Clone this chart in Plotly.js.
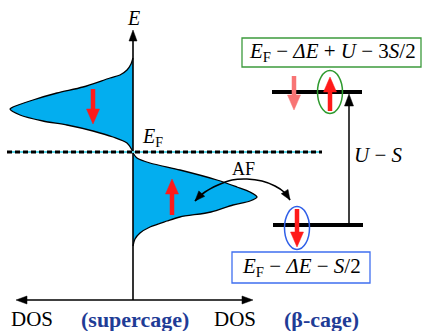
<!DOCTYPE html>
<html><head><meta charset="utf-8">
<script src="https://cdn.plot.ly/plotly-3.0.1.min.js"></script>
<style>html,body{margin:0;padding:0;background:#fff}#chart{width:422px;height:331px}</style>
</head><body><div id="chart"></div>
<script>
// Spin-down DOS lobe (supercage): DOS coordinate vs energy coordinate
const dosDownX = [133,131,127,120,110,83,57,33,13,10,20,43,67,93,113,127,132,133];
const dosDownY = [58,64,70,75,78,87,93,100,107,109,115,121,125,131,137,143,150,153];
// Spin-up DOS lobe (supercage)
const dosUpX = [133,137,150,180,217,237,250,257,250,233,211,180,167,150,140,135,133];
const dosUpY = [153,158,163,170,180,187,192,197,201,205,212,217,221,227,233,239,246];

// Energy levels (beta-cage)
const levelY = [92, 225];
const levelX0 = [272, 273];
const levelX1 = [362, 363];
const fermiY = 152;

// Spin arrows: x, tail y, tip y, colour
const spinX = [93, 172, 294, 330, 297];
const spinTail = [89, 215, 76, 111, 209];
const spinTip = [124, 179, 110, 77, 247];
const spinColor = ['#ff1a1a','#ff1a1a','#f87474','#ff1a1a','#ff1a1a'];

// Ellipses around spins: cx, cy, rx, ry, colour
const ellX = [330, 297];
const ellY = [92, 228];
const ellRx = [12.5, 12.5];
const ellRy = [21.5, 21.5];
const ellColor = ['#2e9a2e', '#2f5fe8'];

// AF curved arrow path points
const afX = [195, 205, 218, 232, 247, 262, 275, 284, 290];
const afY = [201, 192, 185, 180, 179, 181, 186, 192, 200];

// Labels
const labelText = ['<i>E</i>', '<i>E</i><sub>F</sub>', 'AF', '<i>U</i> − <i>S</i>',
  'DOS', '<b>(supercage)</b>', 'DOS', '<b>(β-cage)</b>',
  '<i>E</i><sub>F</sub> − <i>ΔE</i> + <i>U</i> − 3<i>S</i>/2',
  '<i>E</i><sub>F</sub> − <i>ΔE</i> − <i>S</i>/2'];
const labelX = [133, 152, 243, 378, 32, 135, 235, 321, 332, 301];
const labelY = [18, 137, 169, 155, 319, 319, 319, 319, 52, 267];
const labelSize = [20, 20, 18, 21, 21, 22, 21, 22, 21, 21];
const labelColor = ['#000','#000','#000','#000','#000','#1f3c96','#000','#1f3c96','#000','#000'];

// Boxes: x0, y0, x1, y1, colour
const boxX0 = [242, 232], boxY0 = [38, 252], boxX1 = [421, 370], boxY1 = [67, 283];
const boxColor = ['#3c9a3c', '#3f6ff0'];

const traces = [];
function arrow(x0,y0,x1,y1,color,width,headLen,headW){
  const dx=x1-x0, dy=y1-y0, L=Math.hypot(dx,dy), ux=dx/L, uy=dy/L;
  const bx=x1-ux*headLen, by=y1-uy*headLen, px=-uy, py=ux;
  if (width>0) traces.push({x:[x0,bx+ux*2],y:[y0,by+uy*2],mode:'lines',line:{color:color,width:width},hoverinfo:'skip'});
  traces.push({x:[x1,bx+px*headW/2,bx-px*headW/2,x1],y:[y1,by+py*headW/2,by-py*headW/2,y1],mode:'lines',fill:'toself',fillcolor:color,line:{color:color,width:0.5},hoverinfo:'skip'});
}

// DOS lobes
traces.push({x:dosDownX,y:dosDownY,mode:'lines',fill:'toself',fillcolor:'#03aeef',line:{color:'#000',width:1.3,shape:'spline',smoothing:0.8},hoverinfo:'skip'});
traces.push({x:dosUpX,y:dosUpY,mode:'lines',fill:'toself',fillcolor:'#03aeef',line:{color:'#000',width:1.3,shape:'spline',smoothing:0.8},hoverinfo:'skip'});

// axes
traces.push({x:[133,133],y:[300,36],mode:'lines',line:{color:'#000',width:1.6},hoverinfo:'skip'});
arrow(133,50,133,30,'#000',0,11,8);
traces.push({x:[22,248],y:[300,300],mode:'lines',line:{color:'#000',width:1.6},hoverinfo:'skip'});
arrow(40,300,16,300,'#000',0,11,8);
arrow(230,300,253,300,'#000',0,11,8);

// Fermi level dashed line
traces.push({x:[7,322],y:[fermiY,fermiY],mode:'lines',line:{color:'#5ad4e6',width:2},hoverinfo:'skip'});
traces.push({x:[7,322],y:[fermiY,fermiY],mode:'lines',line:{color:'#000',width:3,dash:'5px,3px'},hoverinfo:'skip'});

// levels
for (let i=0;i<levelY.length;i++){
  traces.push({x:[levelX0[i],levelX1[i]],y:[levelY[i],levelY[i]],mode:'lines',line:{color:'#000',width:4},hoverinfo:'skip'});
}
// U-S arrow
arrow(349, levelY[1], 349, levelY[0]+2, '#000', 1.5, 12, 9);

// AF curve
traces.push({x:afX,y:afY,mode:'lines',line:{color:'#000',width:1.6,shape:'spline'},hoverinfo:'skip'});
arrow(afX[1]+1,afY[1]-3,afX[0],afY[0],'#000',0,10,8);
const n=afX.length;
arrow(afX[n-2]-1,afY[n-2]-3,afX[n-1],afY[n-1],'#000',0,10,8);

// spin arrows
for (let i=0;i<spinX.length;i++){
  arrow(spinX[i],spinTail[i],spinX[i],spinTip[i],spinColor[i],4.5,15,13);
}

const shapes = [];
for (let i=0;i<ellX.length;i++){
  shapes.push({type:'circle',xref:'x',yref:'y',x0:ellX[i]-ellRx[i],x1:ellX[i]+ellRx[i],y0:ellY[i]-ellRy[i],y1:ellY[i]+ellRy[i],line:{color:ellColor[i],width:1.5}});
}
for (let i=0;i<boxX0.length;i++){
  shapes.push({type:'rect',xref:'x',yref:'y',x0:boxX0[i],x1:boxX1[i],y0:boxY0[i],y1:boxY1[i],line:{color:boxColor[i],width:1.3}});
}

const annotations = labelText.map((t,i)=>({x:labelX[i],y:labelY[i],xref:'x',yref:'y',text:t,showarrow:false,xanchor:'center',yanchor:'middle',
  font:{family:'Liberation Serif, Times New Roman, serif',size:labelSize[i],color:labelColor[i]}}));

const layout = {
  width:422,height:331,margin:{l:0,r:0,t:0,b:0},
  paper_bgcolor:'#fff',plot_bgcolor:'#fff',showlegend:false,
  xaxis:{range:[0,422],visible:false,fixedrange:true},
  yaxis:{range:[331,0],visible:false,fixedrange:true},
  shapes:shapes,annotations:annotations
};
Plotly.newPlot('chart',traces,layout,{staticPlot:true,displayModeBar:false});
</script></body></html>
